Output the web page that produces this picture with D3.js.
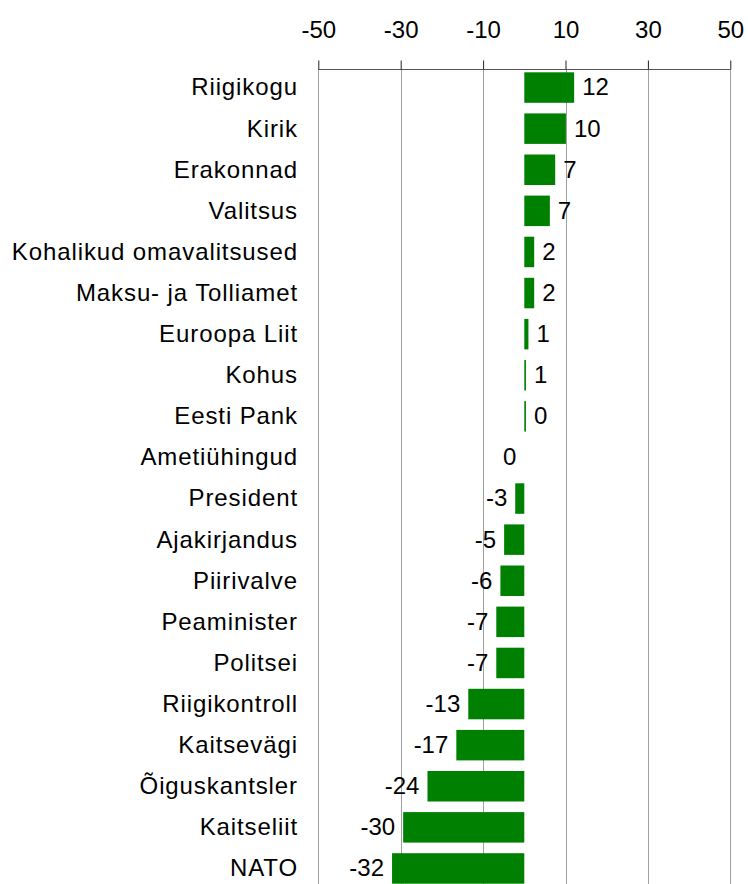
<!DOCTYPE html>
<html>
<head>
<meta charset="utf-8">
<script src="https://cdn.jsdelivr.net/npm/d3@7"></script>
<style>
  body { margin: 0; background: #fff; }
  text { font-family: "Liberation Sans", Arial, sans-serif; fill: #000; }
</style>
</head>
<body>
<div id="chart"></div>
<script>
// data
var categories = ["Riigikogu", "Kirik", "Erakonnad", "Valitsus", "Kohalikud omavalitsused",
    "Maksu- ja Tolliamet", "Euroopa Liit", "Kohus", "Eesti Pank", "Ametiühingud",
    "President", "Ajakirjandus", "Piirivalve", "Peaminister", "Politsei",
    "Riigikontroll", "Kaitsevägi", "Õiguskantsler", "Kaitseliit", "NATO"];
// bar lengths
var values = [12.1, 10.1, 7.5, 6.2, 2.4, 2.4, 1.0, 0.4, 0.4, 0,
    -2.2, -4.9, -5.8, -6.8, -6.8, -13.6, -16.5, -23.5, -29.4, -32.1];
// printed numbers next to the bars
var valueLabels = ["12", "10", "7", "7", "2", "2", "1", "1", "0", "0",
    "-3", "-5", "-6", "-7", "-7", "-13", "-17", "-24", "-30", "-32"];
var tickValues = [-50, -30, -10, 10, 30, 50];

var width = 748, height = 884;
var fontSize = 24;
var barColor = "#008000";

var svg = d3.select("#chart").append("svg")
    .attr("width", width)
    .attr("height", height);

var x = d3.scaleLinear().domain([-50, 50]).range([318.3, 730.3]);
var y = d3.scaleBand().domain(categories).range([67, 889]).paddingInner(0.258).paddingOuter(0.129);

//gridlines
svg.append("g")
    .selectAll("line")
    .data(tickValues)
    .enter()
    .append("line")
    .attr("x1", function(d){ return Math.round(x(d)) + 0.5; })
    .attr("x2", function(d){ return Math.round(x(d)) + 0.5; })
    .attr("y1", 69)
    .attr("y2", height)
    .attr("stroke", "#a0a0a0")
    .attr("stroke-width", 1);

//top axis
var axis = d3.axisTop(x).tickValues(tickValues).tickSize(9).tickPadding(23)
    .tickFormat(function(d){ return String(d); });
var axisG = svg.append("g")
    .attr("transform", "translate(0,69.5)")
    .call(axis);
axisG.select(".domain").attr("stroke", "#555").attr("d", "M" + x(-50) + ",0H" + x(50));
axisG.selectAll(".tick line").attr("stroke", "#222");
axisG.selectAll(".tick text")
    .attr("font-size", fontSize)
    .attr("font-family", "Liberation Sans, Arial, sans-serif")
    .attr("fill", "#000");

//bars
svg.append("g")
    .selectAll("rect")
    .data(values)
    .enter()
    .append("rect")
    .attr("x", function(d){ return x(Math.min(0, d)); })
    .attr("y", function(d, i){ return y(categories[i]); })
    .attr("width", function(d){ return Math.abs(x(d) - x(0)); })
    .attr("height", y.bandwidth())
    .attr("fill", barColor);

//category labels
svg.append("g")
    .selectAll("text")
    .data(categories)
    .enter()
    .append("text")
    .attr("x", 298)
    .attr("y", function(d){ return y(d) + y.bandwidth() / 2; })
    .attr("dy", "0.33em")
    .attr("text-anchor", "end")
    .attr("font-size", fontSize)
    .style("letter-spacing", "0.9px")
    .text(function(d){ return d; });

//value labels
svg.append("g")
    .selectAll("text")
    .data(values)
    .enter()
    .append("text")
    .attr("x", function(d){ return d > 0 ? x(d) + 8 : x(d) - 8; })
    .attr("y", function(d, i){ return y(categories[i]) + y.bandwidth() / 2; })
    .attr("dy", "0.33em")
    .attr("text-anchor", function(d){ return d > 0 ? "start" : "end"; })
    .attr("font-size", fontSize)
    .text(function(d, i){ return valueLabels[i]; });
</script>
</body>
</html>
